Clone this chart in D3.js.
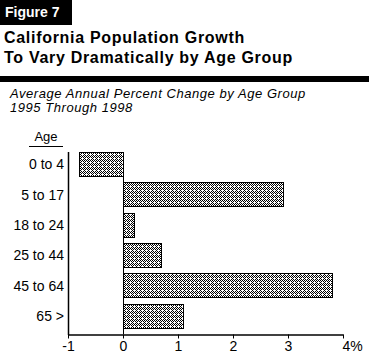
<!DOCTYPE html>
<html>
<head>
<meta charset="utf-8">
<script src="https://cdn.jsdelivr.net/npm/d3@7"></script>
<style>
  body { margin: 0; background: #fff; }
  text { font-family: "Liberation Sans", Arial, sans-serif; }
  .narrow { font-family: "Liberation Sans Narrow", "Liberation Sans", Arial, sans-serif; }
</style>
</head>
<body>
<div id="chart"></div>
<script>
// chart data
var ageGroups = ["0 to 4", "5 to 17", "18 to 24", "25 to 44", "45 to 64", "65 >"];
var pctChange = [-0.8, 2.9, 0.2, 0.7, 3.8, 1.1];
var xTicks = [-1, 0, 1, 2, 3, 4];

var W = 369, H = 361;

var svg = d3.select("#chart")
  .append("svg")
    .attr("width", W)
    .attr("height", H);

// dotted fill for the bars
var defs = svg.append("defs");
var pat = defs.append("pattern")
  .attr("id", "dots")
  .attr("width", 4)
  .attr("height", 4)
  .attr("patternUnits", "userSpaceOnUse");
pat.append("rect").attr("width", 4).attr("height", 4).attr("fill", "#fff");
[[0,0],[2,0],[1,1],[3,1],[0,2],[1,3],[3,3]].forEach(function (p) {
  pat.append("rect")
    .attr("x", p[0]).attr("y", p[1])
    .attr("width", 1).attr("height", 1)
    .attr("fill", "#000");
});

// header
svg.append("rect")
  .attr("x", 0).attr("y", 0)
  .attr("width", 72).attr("height", 25)
  .attr("fill", "#000");
svg.append("text")
  .attr("x", 5).attr("y", 17)
  .attr("fill", "#fff")
  .style("font-size", "14px")
  .style("font-weight", "bold")
  .text("Figure 7");

svg.append("text")
  .attr("x", 4).attr("y", 43)
  .style("font-size", "16px")
  .style("font-weight", "bold")
  .style("letter-spacing", "0.7px")
  .text("California Population Growth");
svg.append("text")
  .attr("x", 4).attr("y", 63)
  .style("font-size", "16px")
  .style("font-weight", "bold")
  .style("letter-spacing", "0.7px")
  .text("To Vary Dramatically by Age Group");

svg.append("rect")
  .attr("x", 0).attr("y", 76)
  .attr("width", W).attr("height", 6)
  .attr("fill", "#000");

svg.append("text")
  .attr("x", 10).attr("y", 98)
  .style("font-size", "13px")
  .style("font-style", "italic")
  .style("letter-spacing", "0.55px")
  .text("Average Annual Percent Change by Age Group");
svg.append("text")
  .attr("x", 10).attr("y", 112)
  .style("font-size", "13px")
  .style("font-style", "italic")
  .style("letter-spacing", "0.55px")
  .text("1995 Through 1998");

// plot area
var x = d3.scaleLinear()
  .domain([-1, 4])
  .range([68, 343]);

var y = d3.scaleBand()
  .domain(ageGroups)
  .range([149, 331])
  .paddingInner(0.2)
  .paddingOuter(0.1);

var g = svg.append("g").attr("shape-rendering", "crispEdges");

g.selectAll(".bar")
  .data(pctChange)
  .enter()
  .append("rect")
    .attr("class", "bar")
    .attr("x", function (d) { return Math.round(x(Math.min(0, d))) + 0.5; })
    .attr("y", function (d, i) { return Math.round(y(ageGroups[i])) + 0.5; })
    .attr("width", function (d) { return Math.round(Math.abs(x(d) - x(0))); })
    .attr("height", Math.round(y.bandwidth()))
    .attr("fill", "url(#dots)")
    .attr("stroke", "#000")
    .attr("stroke-width", 1);

// zero line
g.append("line")
  .attr("x1", Math.round(x(0)) + 0.5).attr("x2", Math.round(x(0)) + 0.5)
  .attr("y1", 152).attr("y2", 334)
  .attr("stroke", "#000");

// x axis
var xAxis = svg.append("g")
  .attr("transform", "translate(0,334.5)")
  .call(d3.axisBottom(x)
    .tickValues(xTicks)
    .tickSize(4)
    .tickSizeOuter(0)
    .tickFormat(function (d) { return d === 4 ? "4%" : d; }));
xAxis.select(".domain").attr("stroke-width", 1.5);
xAxis.selectAll("text")
  .attr("class", "narrow")
  .style("font-size", "14px")
  .style("font-family", null)
  .attr("fill", "#000")
  .attr("dy", "0.7em");
xAxis.attr("font-family", null);
xAxis.selectAll(".tick")
  .filter(function (d) { return d === 4; })
  .select("text")
  .attr("text-anchor", "start")
  .attr("dx", -1);

// y axis: plain line plus labels
svg.append("line")
  .attr("x1", 68.5).attr("x2", 68.5)
  .attr("y1", 152).attr("y2", 335)
  .attr("stroke", "#000")
  .attr("stroke-width", 1.5);

svg.selectAll(".ylab")
  .data(ageGroups)
  .enter()
  .append("text")
    .attr("class", "ylab narrow")
    .attr("x", 64)
    .attr("y", function (d) { return y(d) + y.bandwidth() / 2; })
    .attr("dy", "0.36em")
    .attr("text-anchor", "end")
    .style("font-size", "14px")
    .text(function (d) { return d; });

svg.append("text")
  .attr("class", "narrow")
  .attr("x", 46).attr("y", 141)
  .attr("text-anchor", "middle")
  .style("font-size", "13px")
  .text("Age");
svg.append("line")
  .attr("x1", 29).attr("x2", 63)
  .attr("y1", 146.5).attr("y2", 146.5)
  .attr("stroke", "#000");
</script>
</body>
</html>
